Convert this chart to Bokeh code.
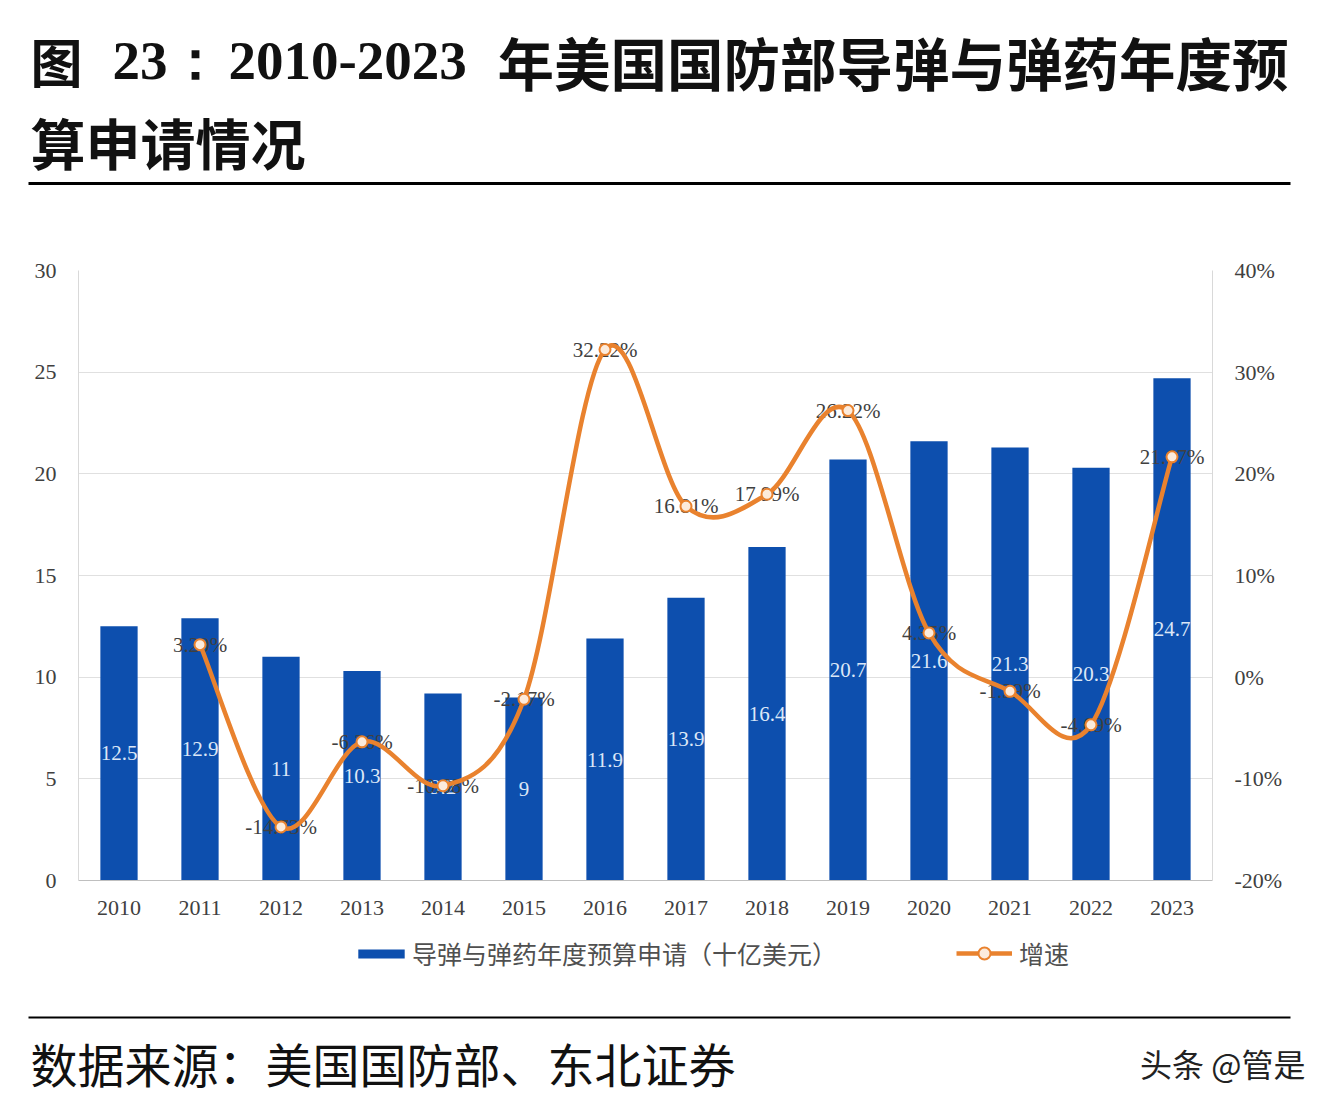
from bokeh.plotting import figure
from bokeh.models import (Range1d, LinearAxis, FixedTicker, Legend, LegendItem,
                          CustomJSTickFormatter)
from bokeh.core.properties import value
from bokeh.embed import file_html
from bokeh.resources import INLINE

# ---------------- data ----------------
years = ["2010", "2011", "2012", "2013", "2014", "2015", "2016",
         "2017", "2018", "2019", "2020", "2021", "2022", "2023"]
budget = [12.5, 12.9, 11, 10.3, 9.2, 9, 11.9, 13.9, 16.4, 20.7, 21.6, 21.3, 20.3, 24.7]
budget_labels = ["12.5", "12.9", "11", "10.3", "9.2", "9", "11.9", "13.9",
                 "16.4", "20.7", "21.6", "21.3", "20.3", "24.7"]
growth_years = years[1:]
growth = [3.20, -14.73, -6.36, -10.68, -2.17, 32.22, 16.81, 17.99, 26.22,
          4.35, -1.39, -4.69, 21.67]
growth_labels = ["3.20%", "-14.73%", "-6.36%", "-10.68%", "-2.17%", "32.22%",
                 "16.81%", "17.99%", "26.22%", "4.35%", "-1.39%", "-4.69%", "21.67%"]
left_ticks = [0, 5, 10, 15, 20, 25, 30]
right_ticks = [-20, -10, 0, 10, 20, 30, 40]

title_line1_a = "图"
title_line1_b = "23："
title_line1_c = "2010-2023"
title_line1_d = "年美国国防部导弹与弹药年度预"
title_line2 = "算申请情况"
legend_bar = "导弹与弹药年度预算申请（十亿美元）"
legend_line = "增速"
source_text = "数据来源：美国国防部、东北证券"
watermark = "头条 @管是"

BLUE = "#0D4FAE"
ORANGE = "#E9822E"
CJK = "Noto Sans CJK SC"
SERIF = "Liberation Serif"
W = 1320
NAN = float("nan")


def blank(h):
    f = figure(width=W, height=h, x_range=Range1d(0, W), y_range=Range1d(h, 0),
               output_backend="svg", toolbar_location=None, min_border=0,
               min_border_left=0, min_border_right=0, min_border_top=0, min_border_bottom=0)
    f.axis.visible = False
    f.grid.visible = False
    f.outline_line_color = None
    return f


# ---------------- title ----------------
tf = blank(188)
tf.text(x=[30], y=[60], text=[title_line1_a], text_font=value(CJK), text_font_style="bold",
        text_font_size="52px", text_baseline="middle", text_color="#111111")
tf.text(x=[112], y=[60], text=[title_line1_b], text_font=value(SERIF), text_font_style="bold",
        text_font_size="55px", text_baseline="middle", text_color="#111111")
tf.text(x=[228], y=[60], text=[title_line1_c], text_font=value(SERIF), text_font_style="bold",
        text_font_size="55px", text_baseline="middle", text_color="#111111")
tf.text(x=[497], y=[60], text=[title_line1_d], text_font=value(CJK), text_font_style="bold",
        text_font_size="56.5px", text_baseline="middle", text_color="#111111")
tf.text(x=[30], y=[140], text=[title_line2], text_font=value(CJK), text_font_style="bold",
        text_font_size="55px", text_baseline="middle", text_color="#111111")
tf.segment(x0=[28], y0=[183], x1=[1290], y1=[183], line_color="#000000", line_width=3)

# ---------------- main chart ----------------
n = len(years)
xs = list(range(n))
gx = [years.index(y) for y in growth_years]

p = figure(width=W, height=742, x_range=Range1d(-0.5, n - 0.5), y_range=Range1d(0, 30),
           output_backend="svg", toolbar_location=None,
           min_border_left=78, min_border_right=108, min_border_top=82, min_border_bottom=50)
p.outline_line_color = None
p.extra_y_ranges = {"pct": Range1d(-20, 40)}

bars = p.vbar(x=xs, top=budget, width=0.46, fill_color=BLUE, line_color=None)
p.text(x=xs, y=[b / 2 for b in budget], text=budget_labels, text_font=value(SERIF),
       text_font_size="21px", text_align="center", text_baseline="middle", text_color="#DCE7F7")

p.text(x=gx, y=growth, text=growth_labels, y_range_name="pct", text_font=value(SERIF),
       text_font_size="21px", text_align="center", text_baseline="middle", text_color="#404040")

# smooth curve (Catmull-Rom -> cubic Bezier)
pts = list(zip(gx, growth))
bx0, by0, bx1, by1, c0x, c0y, c1x, c1y = [], [], [], [], [], [], [], []
for i in range(len(pts) - 1):
    p0 = pts[i - 1] if i > 0 else pts[i]
    p1 = pts[i]
    p2 = pts[i + 1]
    p3 = pts[i + 2] if i + 2 < len(pts) else pts[i + 1]
    bx0.append(p1[0]); by0.append(p1[1]); bx1.append(p2[0]); by1.append(p2[1])
    c0x.append(p1[0] + (p2[0] - p0[0]) / 6); c0y.append(p1[1] + (p2[1] - p0[1]) / 6)
    c1x.append(p2[0] - (p3[0] - p1[0]) / 6); c1y.append(p2[1] - (p3[1] - p1[1]) / 6)
p.bezier(x0=bx0, y0=by0, x1=bx1, y1=by1, cx0=c0x, cy0=c0y, cx1=c1x, cy1=c1y,
         y_range_name="pct", line_color=ORANGE, line_width=4.5)
p.scatter(x=gx, y=growth, y_range_name="pct", size=11, fill_color="#FCEBDC",
          line_color=ORANGE, line_width=2)

# axes
p.xaxis.ticker = FixedTicker(ticks=xs)
p.xaxis.major_label_overrides = {i: y for i, y in enumerate(years)}
p.yaxis.ticker = FixedTicker(ticks=left_ticks)
for ax in [p.xaxis[0], p.yaxis[0]]:
    ax.major_tick_line_color = None
    ax.minor_tick_line_color = None
    ax.major_label_text_font = SERIF
    ax.major_label_text_font_size = "22px"
    ax.major_label_text_color = "#404040"
p.xaxis.axis_line_color = "#BFBFBF"
p.xaxis.major_label_standoff = 14
p.yaxis.axis_line_color = "#D9D9D9"
p.yaxis.major_label_standoff = 16

ra = LinearAxis(y_range_name="pct", ticker=FixedTicker(ticks=right_ticks),
                formatter=CustomJSTickFormatter(code="return tick + '%';"))
ra.major_tick_line_color = None
ra.minor_tick_line_color = None
ra.axis_line_color = "#D9D9D9"
ra.major_label_text_font = SERIF
ra.major_label_text_font_size = "22px"
ra.major_label_text_color = "#404040"
ra.major_label_standoff = 16
p.add_layout(ra, "right")

p.xgrid.visible = False
p.ygrid.ticker = FixedTicker(ticks=left_ticks)
p.ygrid.grid_line_color = "#E0E0E0"

# ---------------- legend + footer ----------------
FH = 170
ff = blank(FH)
lb = ff.vbar(x=[NAN], top=[NAN], width=1, fill_color=BLUE, line_color=None)
ll = ff.line(x=[NAN, NAN], y=[NAN, NAN], line_color=ORANGE, line_width=4.5)
lm = ff.scatter(x=[NAN], y=[NAN], size=11, fill_color="#FCEBDC", line_color=ORANGE, line_width=2)
common = dict(orientation="horizontal", label_text_font=CJK, label_text_font_size="25px",
              label_text_color="#505050", label_height=24, border_line_color=None,
              background_fill_alpha=0, margin=0, padding=6)
legend1 = Legend(items=[LegendItem(label=legend_bar, renderers=[lb])],
                 location=(352, FH - 25 - 16), glyph_width=58, glyph_height=11,
                 label_standoff=2, **common)
legend2 = Legend(items=[LegendItem(label=legend_line, renderers=[ll, lm])],
                 location=(956, FH - 25 - 16), glyph_width=56, glyph_height=30,
                 label_standoff=7, **common)
ff.add_layout(legend1, "center")
ff.add_layout(legend2, "center")

ff.segment(x0=[28], y0=[87], x1=[1290], y1=[87], line_color="#000000", line_width=2)
ff.text(x=[30], y=[132], text=[source_text], text_font=value(CJK), text_font_size="47px",
        text_baseline="middle", text_color="#111111")
ff.text(x=[1305], y=[132], text=[watermark], text_font=value(CJK), text_font_size="32px",
        text_baseline="middle", text_align="right", text_color="#222222")

open("out.html", "w").write(file_html([tf, p, ff], INLINE))
